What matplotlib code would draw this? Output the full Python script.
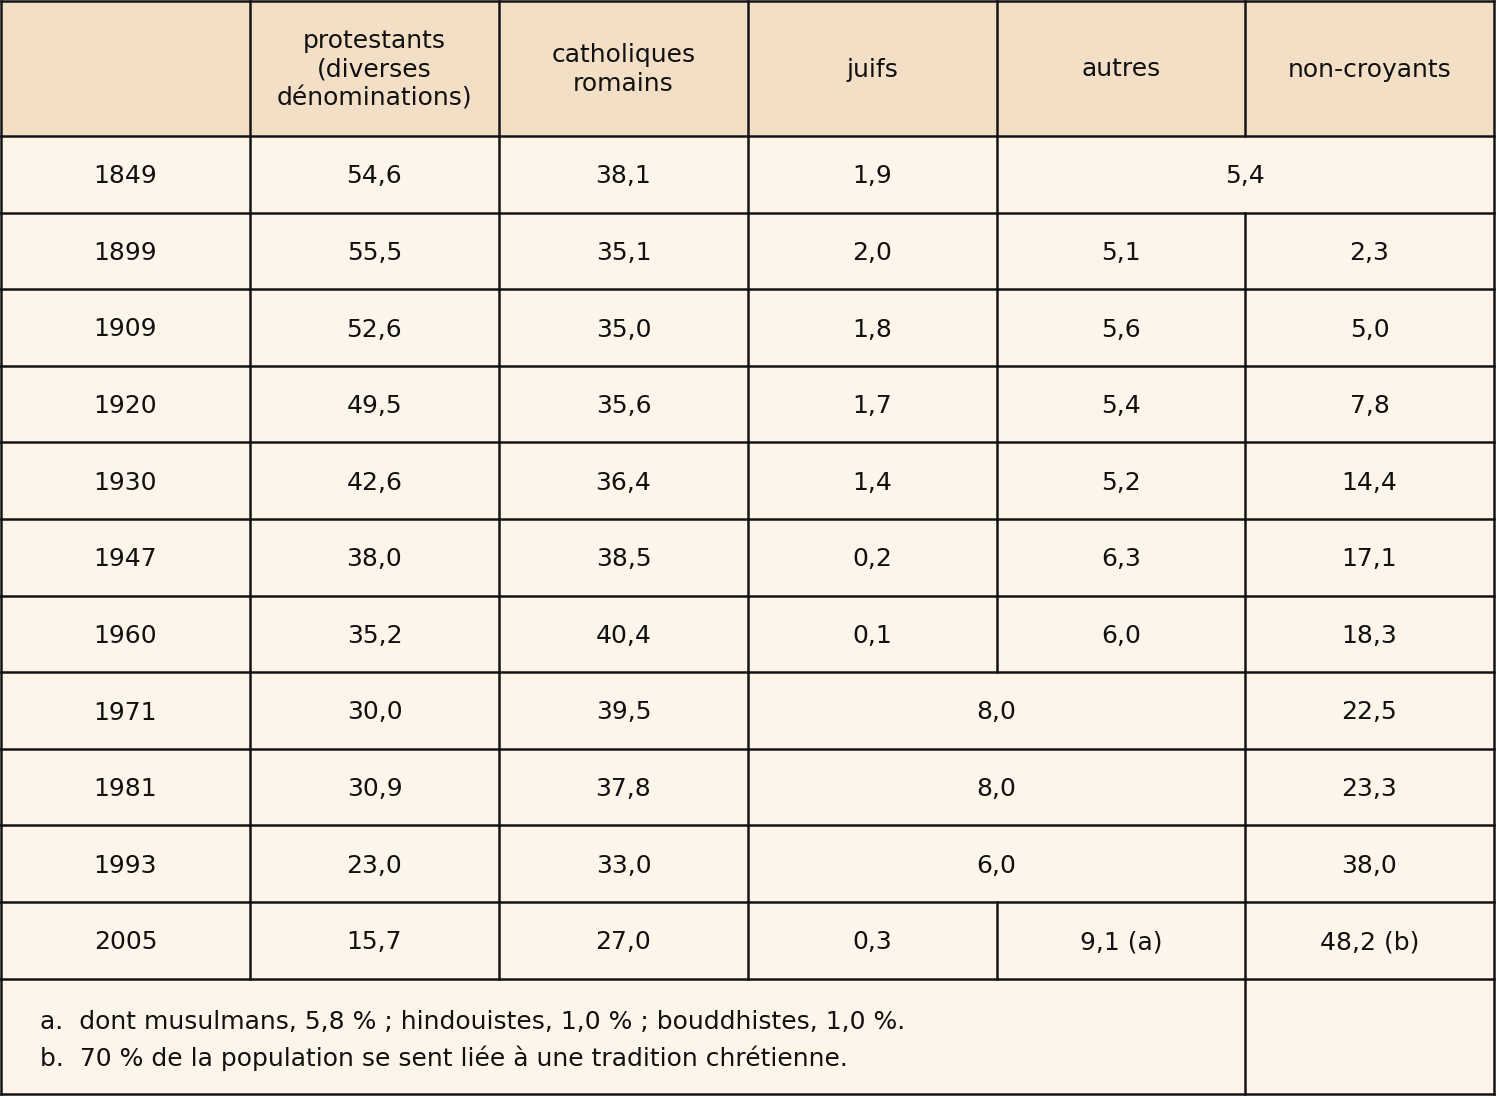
import matplotlib
matplotlib.use("Agg")
import matplotlib.pyplot as plt
from matplotlib.patches import Rectangle

plt.rcParams.update({
    "font.family": ["DejaVu Sans"],
})

# ------------------------------ donnees ------------------------------
entetes = ["", "protestants\n(diverses\ndénominations)", "catholiques\nromains",
           "juifs", "autres", "non-croyants"]
annees = ["1849", "1899", "1909", "1920", "1930", "1947", "1960",
          "1971", "1981", "1993", "2005"]
protestants = ["54,6", "55,5", "52,6", "49,5", "42,6", "38,0", "35,2",
               "30,0", "30,9", "23,0", "15,7"]
catholiques = ["38,1", "35,1", "35,0", "35,6", "36,4", "38,5", "40,4",
               "39,5", "37,8", "33,0", "27,0"]
juifs = ["1,9", "2,0", "1,8", "1,7", "1,4", "0,2", "0,1",
         "8,0", "8,0", "6,0", "0,3"]          # 1971-1993 : juifs + autres
autres = ["5,4", "5,1", "5,6", "5,4", "5,2", "6,3", "6,0",
          None, None, None, "9,1 (a)"]         # 1849 : autres + non-croyants
non_croyants = [None, "2,3", "5,0", "7,8", "14,4", "17,1", "18,3",
                "22,5", "23,3", "38,0", "48,2 (b)"]
notes = ["a.  dont musulmans, 5,8 % ; hindouistes, 1,0 % ; bouddhistes, 1,0 %.",
         "b.  70 % de la population se sent liée à une tradition chrétienne."]

# cellules fusionnees : (ligne, colonne) -> nombre de colonnes
fusions = {(0, 4): 2, (7, 3): 2, (8, 3): 2, (9, 3): 2}

# ------------------------------ mise en page ------------------------------
W, H = 1499, 1098
x_col = [1, 250, 499, 748, 997, 1245, 1494]
h_tete, h_ligne, h_pied = 135, 76.6, 115
y0 = 1
bords = [y0, y0 + h_tete]
for _ in annees:
    bords.append(bords[-1] + h_ligne)
bords.append(bords[-1] + h_pied)

FOND_TETE = "#f3dec6"
FOND_CORPS = "#fdf5ea"
TRAIT = "#151515"
LW = 1.8
FS = 18

fig = plt.figure(figsize=(W / 100, H / 100), dpi=100)
ax = fig.add_axes([0, 0, 1, 1])
ax.set_xlim(0, W)
ax.set_ylim(H, 0)
ax.axis("off")

# fonds
ax.add_patch(Rectangle((x_col[0], bords[0]), x_col[-1] - x_col[0],
                       bords[1] - bords[0], color=FOND_TETE, lw=0))
ax.add_patch(Rectangle((x_col[0], bords[1]), x_col[-1] - x_col[0],
                       bords[-1] - bords[1], color=FOND_CORPS, lw=0))

# entetes
for j, txt in enumerate(entetes):
    xc = (x_col[j] + x_col[j + 1]) / 2
    ax.text(xc, (bords[0] + bords[1]) / 2 + 1, txt, ha="center", va="center",
            multialignment="center", fontsize=FS, linespacing=1.25,
            color="#111111")
    ax.plot([x_col[j], x_col[j]], [bords[0], bords[1]], color=TRAIT, lw=LW,
            solid_capstyle="projecting")

# corps
colonnes = [annees, protestants, catholiques, juifs, autres, non_croyants]
for i in range(len(annees)):
    ya, yb = bords[i + 1], bords[i + 2]
    yc = (ya + yb) / 2 + 2
    j = 0
    while j < len(colonnes):
        span = fusions.get((i, j), 1)
        ax.plot([x_col[j], x_col[j]], [ya, yb], color=TRAIT, lw=LW,
                solid_capstyle="projecting")
        val = colonnes[j][i]
        if val is not None:
            xc = (x_col[j] + x_col[j + span]) / 2
            ax.text(xc, yc, val, ha="center", va="center", fontsize=FS,
                    color="#111111")
        j += span

# pied de tableau
ya, yb = bords[-2], bords[-1]
ax.plot([x_col[0], x_col[0]], [ya, yb], color=TRAIT, lw=LW)
ax.plot([x_col[5], x_col[5]], [ya, yb], color=TRAIT, lw=LW)
for k, note in enumerate(notes):
    ax.text(40, ya + 43 + k * 37, note, ha="left", va="center", fontsize=FS,
            color="#111111")

# traits horizontaux et bord droit
for y in bords:
    ax.plot([x_col[0], x_col[-1]], [y, y], color=TRAIT, lw=LW,
            solid_capstyle="projecting")
ax.plot([x_col[-1], x_col[-1]], [bords[0], bords[-1]], color=TRAIT, lw=LW,
        solid_capstyle="projecting")

fig.savefig("out.png", dpi=100, facecolor="white")
